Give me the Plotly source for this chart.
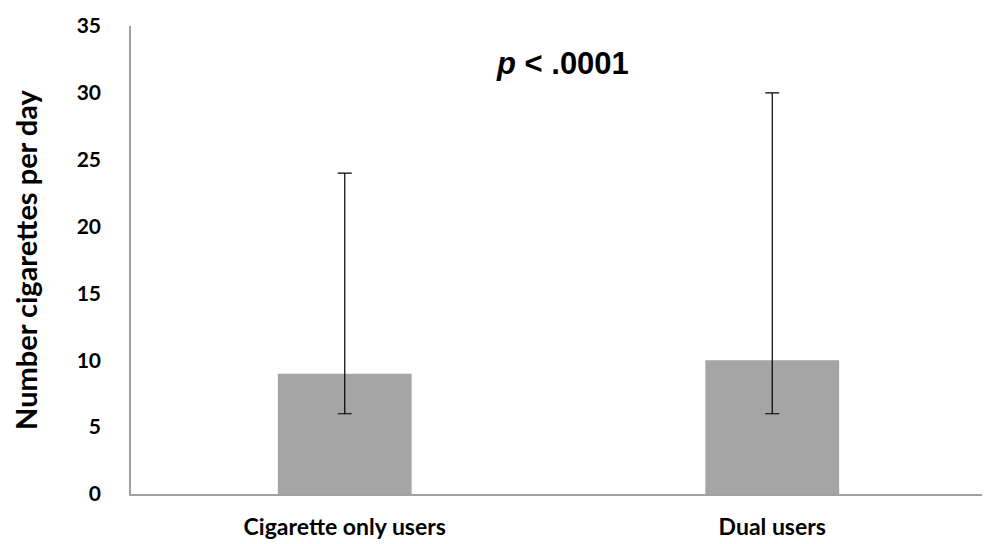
import plotly.graph_objects as go

categories = ["Cigarette only users", "Dual users"]
means = [9, 10]
upper = [24, 30]
lower = [6, 6]
y_ticks = [0, 5, 10, 15, 20, 25, 30, 35]

err_plus = [u - m for u, m in zip(upper, means)]
err_minus = [m - l for m, l in zip(means, lower)]

fig = go.Figure()
fig.add_trace(go.Bar(
    x=categories, y=means,
    marker=dict(color="#a5a5a5", line=dict(width=0)),
    error_y=dict(type="data", symmetric=False, array=err_plus, arrayminus=err_minus,
                 color="black", thickness=1.2, width=7),
))

fig.update_layout(
    width=982, height=536,
    margin=dict(l=123, r=4, t=14, b=50),
    paper_bgcolor="white", plot_bgcolor="white",
    bargap=0.687,
    showlegend=False,
    font=dict(family="Lato", color="black"),
    xaxis=dict(
        showline=True, linecolor="#a0a0a0", linewidth=1.5,
        showgrid=False, ticks="",
        tickfont=dict(family="Lato", size=23, weight="bold"),
        ticklabelstandoff=12,
    ),
    yaxis=dict(
        range=[0, 35], tickvals=y_ticks,
        showline=True, linecolor="#a0a0a0", linewidth=1.5,
        showgrid=False, zeroline=False, ticks="",
        tickfont=dict(family="Lato", size=21, weight="bold"),
        ticklabelstandoff=24,
        title=dict(text="Number cigarettes per day",
                   font=dict(family="Lato", size=29, weight="bold"), standoff=40),
    ),
    annotations=[dict(
        text="<i>p</i> < .0001", xref="paper", yref="paper",
        x=0.505, y=0.919, showarrow=False, xanchor="center", yanchor="middle",
        font=dict(family="Liberation Sans", size=31, weight="bold", color="black"),
    )],
)

fig.write_html("out.html")
